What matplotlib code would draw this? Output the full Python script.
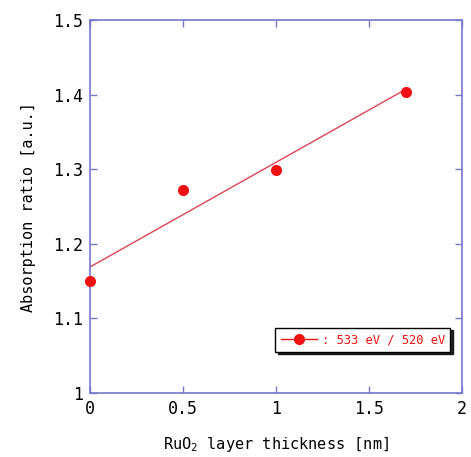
import numpy as np
import matplotlib
matplotlib.use("Agg")
import matplotlib.pyplot as plt

# --- Data ---
thickness = [0.0, 0.5, 1.0, 1.7]
ratio = [1.150, 1.272, 1.299, 1.404]
x_ticks = [0, 0.5, 1, 1.5, 2]
x_labels = ["0", "0.5", "1", "1.5", "2"]
y_ticks = [1, 1.1, 1.2, 1.3, 1.4, 1.5]
y_labels = ["1", "1.1", "1.2", "1.3", "1.4", "1.5"]

AXIS_COLOR = "#7777cc"
RED = "#ee1111"

plt.rcParams['font.family'] = ["DejaVu Sans Mono", "DejaVu Sans"]
plt.rcParams['mathtext.fontset'] = 'custom'
plt.rcParams['mathtext.rm'] = 'DejaVu Sans Mono'

fig = plt.figure(figsize=(4.71, 4.57), dpi=100)
ax = fig.add_axes([0.191, 0.140, 0.790, 0.816])

# linear fit line
slope, icpt = np.polyfit(thickness, ratio, 1)
xf = np.array([thickness[0], thickness[-1]])
ax.plot(xf, slope * xf + icpt, color="#dd4455", lw=1.0, zorder=2)
ax.plot(thickness, ratio, "o", color=RED, ms=7, zorder=3, clip_on=False)

ax.set_xlim(0, 2)
ax.set_ylim(1, 1.5)
ax.set_xticks(x_ticks)
ax.set_xticklabels(x_labels)
ax.set_yticks(y_ticks)
ax.set_yticklabels(y_labels)

for s in ax.spines.values():
    s.set_color(AXIS_COLOR)
    s.set_linewidth(1.2)
ax.tick_params(direction="in", length=5, width=1, color=AXIS_COLOR,
               top=True, right=True, labelsize=12, pad=5)

ax.set_xlabel("RuO$\\mathregular{_2}$ layer thickness [nm]", fontsize=11, labelpad=12)
ax.set_ylabel("Absorption ratio [a.u.]", fontsize=11, labelpad=12)

# legend box with shadow
handle, = ax.plot([], [], "-o", color=RED, ms=7, lw=1.0, markerfacecolor=RED)
leg = ax.legend([handle], [": 533 eV / 520 eV"], loc="lower right",
                bbox_to_anchor=(0.985, 0.095), frameon=True, fancybox=False,
                shadow={"color": "black", "alpha": 0.85, "ox": 1.8, "oy": -1.8},
                fontsize=8.7, handlelength=3.0, borderpad=0.45, handletextpad=0.4)
leg.get_frame().set_edgecolor("black")
leg.get_frame().set_linewidth(1.0)
for t in leg.get_texts():
    t.set_color(RED)

fig.savefig("out.png", dpi=100)
